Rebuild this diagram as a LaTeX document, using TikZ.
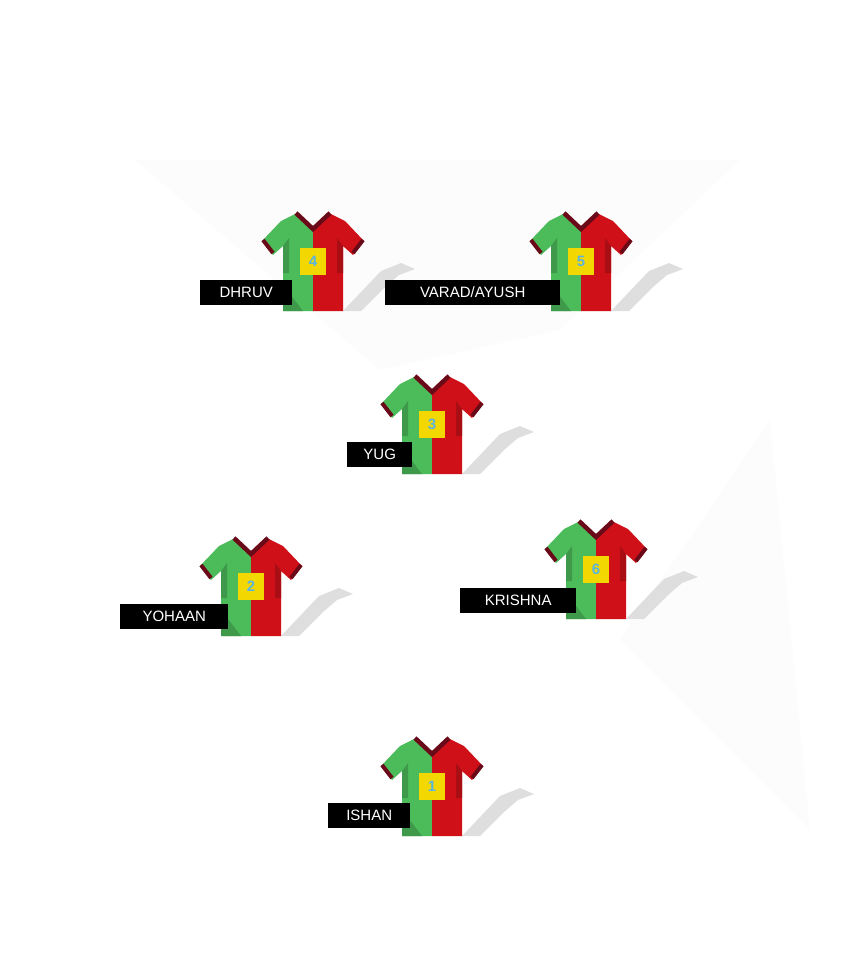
\documentclass[tikz,border=0pt]{standalone}
\usepackage{fontspec}
\setmainfont{Liberation Sans}
\definecolor{sg}{HTML}{4CBB5A}
\definecolor{sgd}{HTML}{3E9A4A}
\definecolor{sr}{HTML}{D01018}
\definecolor{srd}{HTML}{A80E14}
\definecolor{sm}{HTML}{6A0A18}
\definecolor{sy}{HTML}{F2D800}
\definecolor{sb}{HTML}{5AB4E0}
\definecolor{sh}{HTML}{DEDEDE}
\tikzset{
  lab/.style={fill=black,text=white,font=\fontsize{15}{17}\selectfont,inner sep=0pt,minimum height=25pt,anchor=west},
  pics/shirt/.style={code={
    \fill[sh] (30,98) -- (68,58) -- (88,50) -- (102,56) -- (86,62) -- (72,74) -- (48,98) -- cycle;
    \fill[sg] (0,16) -- (-16,0) -- (-32,8) -- (-51,28) -- (-40,42) -- (-30,33) -- (-30,98) -- (0,98) -- cycle;
    \fill[sr] (0,16) -- (16,0) -- (32,8) -- (51,28) -- (40,42) -- (30,33) -- (30,98) -- (0,98) -- cycle;
    \fill[sgd] (-30,98) -- (-30,72) -- (-10,98) -- cycle;
    \fill[sgd] (-30,33) -- (-24,25) -- (-24,60) -- (-30,60) -- cycle;
    \fill[srd] (30,33) -- (24,25) -- (24,60) -- (30,60) -- cycle;
    \draw[sm,line width=4.5pt,line join=miter] (-17,0) -- (0,16) -- (17,0);
    \draw[sm,line width=4pt] (-50,27) -- (-40,40);
    \draw[sm,line width=4pt] (50,27) -- (40,40);
    \fill[sy] (-13,35) rectangle (13,62);
    \node[text=sb,font=\fontsize{15}{17}\selectfont\bfseries] (#1) at (0,48.5) {#1};
  }}
}
\begin{document}
\begin{tikzpicture}[x=1pt,y=-1pt]
\useasboundingbox (0,0) rectangle (868,978);
\fill[black!1] (135,160) -- (740,160) -- (560,330) -- (380,370) -- cycle;
\fill[black!1] (770,420) -- (810,830) -- (620,640) -- cycle;
\pic at (313,213) {shirt=4};
\pic at (581,213) {shirt=5};
\pic at (432,376) {shirt=3};
\pic at (251,538) {shirt=2};
\pic at (596,521) {shirt=6};
\pic at (432,738) {shirt=1};
\node[lab,minimum width=92pt] (dhruv) at (200,292.5) {DHRUV};
\node[lab,minimum width=175pt] (varad) at (385,292.5) {VARAD/AYUSH\hspace{12pt}};
\node[lab,minimum width=65pt] (yug) at (347,454.5) {YUG};
\node[lab,minimum width=108pt] (yohaan) at (120,616.5) {YOHAAN};
\node[lab,minimum width=116pt] (krishna) at (460,600.5) {KRISHNA};
\node[lab,minimum width=82pt] (ishan) at (328,815.5) {ISHAN};
\end{tikzpicture}
\end{document}
